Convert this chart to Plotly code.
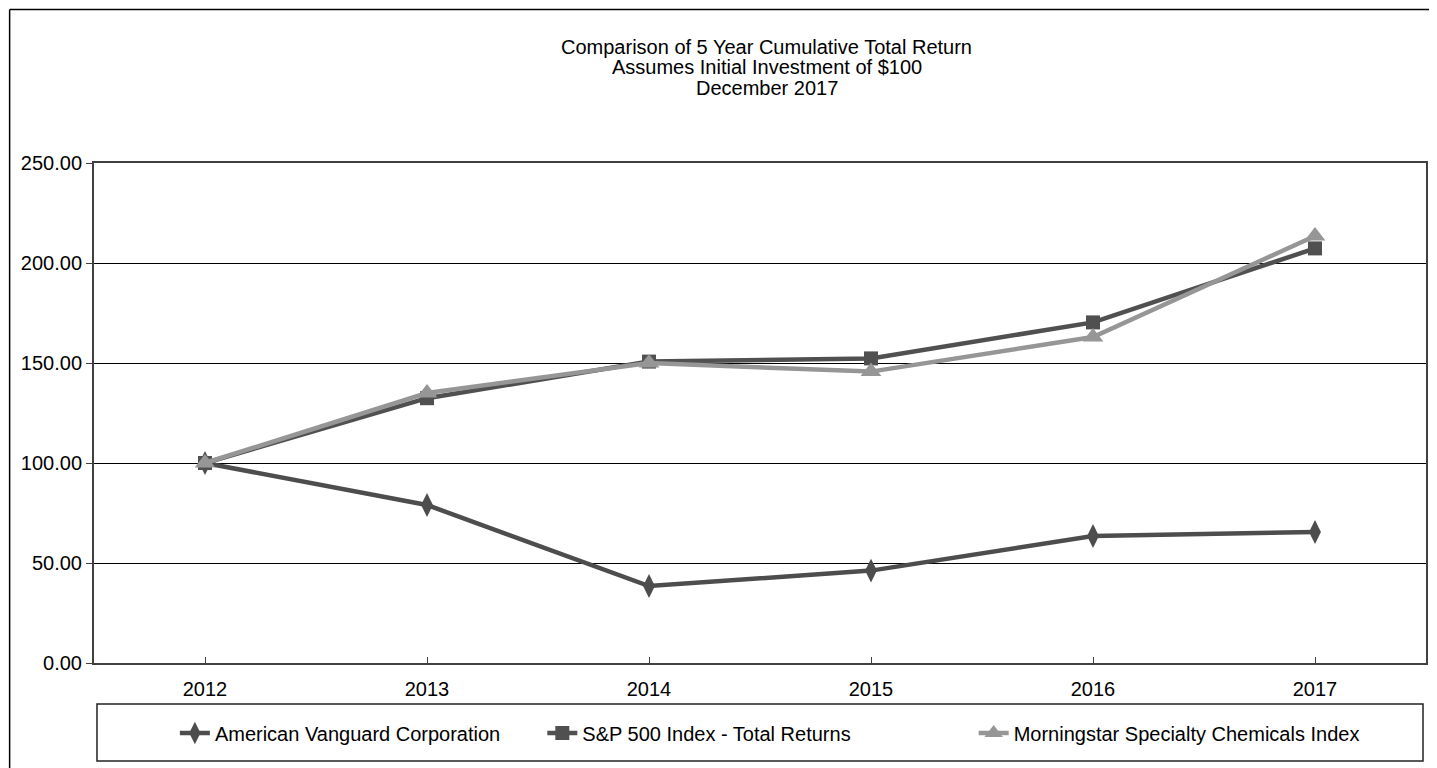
import plotly.graph_objects as go

years = ["2012", "2013", "2014", "2015", "2016", "2017"]
avd = [100.0, 79.0, 38.5, 46.2, 63.5, 65.5]
sp500 = [100.0, 132.4, 150.7, 152.3, 170.3, 207.3]
morningstar = [100.0, 135.0, 150.0, 145.7, 163.0, 213.5]
y_ticks = [0, 50, 100, 150, 200, 250]

names = ["American Vanguard Corporation", "S&P 500 Index - Total Returns",
         "Morningstar Specialty Chemicals Index"]
title_lines = ["Comparison of 5 Year Cumulative Total Return",
               "Assumes Initial Investment of $100",
               "December 2017"]

FONT = "Liberation Sans, Arial, sans-serif"
FS = 20
OFF = 8  # page body margin
W, H = 1437 - OFF, 768 - OFF
L, R, T, B = 94 - OFF, 1428 - OFF, 163 - OFF, 663 - OFF
PW, PH = R - L, B - T


def px_x(p):  # p in screen pixels
    return (p - OFF - L) / PW


def px_y(p):
    return (B - (p - OFF)) / PH


fig = go.Figure()
fig.add_trace(go.Scatter(
    x=years, y=avd, name=names[0], mode="lines+markers",
    line=dict(color="#4d4d4d", width=4.5),
    marker=dict(symbol="diamond-tall", size=17, color="#4d4d4d"),
    legend="legend"))
fig.add_trace(go.Scatter(
    x=years, y=sp500, name=names[1], mode="lines+markers",
    line=dict(color="#505050", width=4.5),
    marker=dict(symbol="square", size=14, color="#505050"),
    legend="legend2"))
fig.add_trace(go.Scatter(
    x=years, y=morningstar, name=names[2], mode="lines+markers",
    line=dict(color="#969696", width=4.5),
    marker=dict(symbol="triangle-up", size=18, color="#969696"),
    legend="legend3"))

legend_common = dict(orientation="h", yanchor="middle", xanchor="left",
                     y=px_y(733), bgcolor="rgba(0,0,0,0)",
                     font=dict(family=FONT, size=FS, color="#000"),
                     itemclick=False, itemdoubleclick=False)

annotations = []
for txt, yy in zip(title_lines, [47, 67, 88]):
    annotations.append(dict(text=txt, xref="paper", yref="paper",
                            x=px_x(768), y=px_y(yy), xanchor="center",
                            yanchor="middle", showarrow=False,
                            font=dict(family=FONT, size=FS, color="#000")))

fig.update_layout(
    width=W, height=H, autosize=False,
    margin=dict(l=L, r=W - R, t=T, b=H - B, pad=0),
    paper_bgcolor="white", plot_bgcolor="white",
    font=dict(family=FONT, size=FS, color="#000"),
    xaxis=dict(type="category", range=[-0.5, 5.5], showgrid=False,
               showline=True, linecolor="#404040", linewidth=2, mirror=True,
               ticks="inside", ticklen=6, tickcolor="#404040", tickwidth=1,
               tickfont=dict(family=FONT, size=FS, color="#000"),
               ticklabelstandoff=7, fixedrange=True),
    yaxis=dict(range=[0, 250], tickvals=y_ticks, tickformat=".2f",
               showgrid=True, gridcolor="#000", gridwidth=1,
               showline=True, linecolor="#404040", linewidth=2, mirror=True,
               ticks="outside", ticklen=6, tickcolor="#404040", tickwidth=1,
               tickfont=dict(family=FONT, size=FS, color="#000"),
               ticklabelstandoff=0, zeroline=False, fixedrange=True),
    legend=dict(x=px_x(175), **legend_common),
    legend2=dict(x=px_x(543), **legend_common),
    legend3=dict(x=px_x(975), **legend_common),
    showlegend=True,
    annotations=annotations,
    shapes=[
        dict(type="rect", xref="paper", yref="paper",
             x0=px_x(97), x1=px_x(1425), y0=px_y(761), y1=px_y(704),
             line=dict(color="#222", width=1.5), fillcolor="rgba(0,0,0,0)"),
        dict(type="line", xref="paper", yref="paper",
             x0=px_x(9.5), x1=px_x(1445), y0=px_y(9.5), y1=px_y(9.5),
             line=dict(color="#000", width=1.5)),
        dict(type="line", xref="paper", yref="paper",
             x0=px_x(9.5), x1=px_x(9.5), y0=px_y(9.5), y1=px_y(775),
             line=dict(color="#000", width=1.5)),
    ],
)

fig.write_html("out.html")
